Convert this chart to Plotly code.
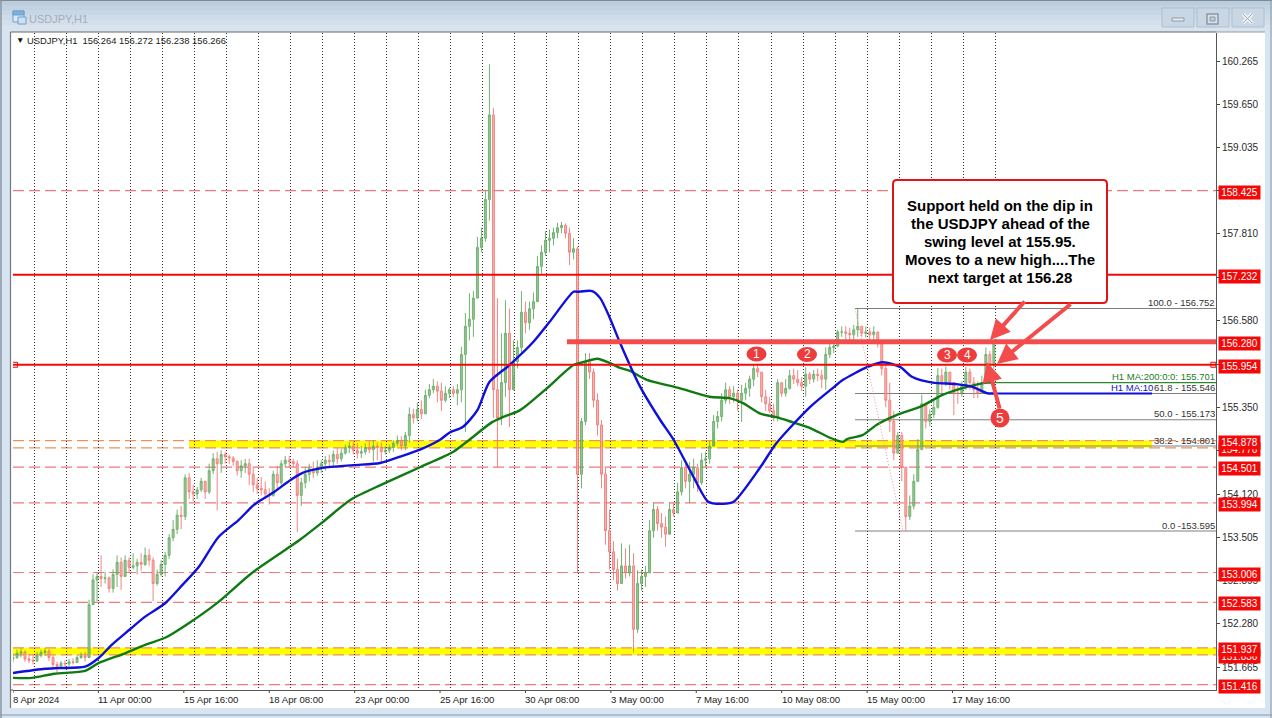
import plotly.graph_objects as go

# ---------- data (prices) ----------
first_open = 151.78
candle_step = 3  # one drawn candle per three hourly bars
highs = [
 151.86,151.91,151.93,151.90,151.85,151.84,151.88,151.91,151.93,151.92,
 151.83,151.74,151.75,151.76,151.78,151.79,151.83,151.87,151.88,152.62,
 152.98,153.00,153.25,153.02,152.95,153.05,153.25,153.22,153.25,153.22,
 153.28,153.20,153.28,153.36,153.34,153.22,153.05,153.18,153.30,153.55,
 153.75,153.90,153.95,154.40,154.42,154.25,154.22,154.35,154.28,154.55,
 154.70,154.72,154.74,154.72,154.68,154.66,154.60,154.60,154.62,154.62,
 154.50,154.35,154.36,154.30,154.20,154.45,154.52,154.60,154.66,154.66,
 154.62,154.60,154.35,154.50,154.55,154.58,154.60,154.60,154.66,154.68,
 154.74,154.78,154.76,154.82,154.86,154.86,154.84,154.80,154.84,154.87,
 154.88,154.85,154.85,154.80,154.82,154.88,154.95,154.94,155.00,155.35,
 155.33,155.42,155.45,155.60,155.68,155.75,155.72,155.70,155.65,155.63,
 155.65,155.68,156.21,156.69,156.97,157.00,157.77,157.90,158.43,160.22,
 159.60,156.90,156.40,156.87,156.75,156.30,156.30,157.00,156.85,156.85,
 156.98,157.50,157.65,157.85,157.87,157.90,157.97,157.98,157.96,157.90,
 157.75,157.63,155.20,156.12,156.12,155.90,155.55,155.17,154.50,153.90,
 153.45,153.20,153.42,153.35,153.40,153.28,153.04,153.05,153.10,153.75,
 154.00,153.95,153.85,153.80,154.00,154.00,154.28,154.60,154.55,154.57,
 154.62,154.55,154.70,154.72,154.87,155.24,155.30,155.55,155.70,155.65,
 155.65,155.60,155.67,155.70,155.80,155.95,155.95,155.85,155.60,155.50,
 155.40,155.75,155.70,155.75,155.88,155.90,155.88,155.78,155.92,155.85,
 155.88,155.90,155.88,156.20,156.27,156.28,156.45,156.50,156.50,156.48,
 156.52,156.75,156.50,156.50,156.48,156.50,156.42,156.30,155.95,155.70,
 155.30,155.00,155.00,154.50,154.10,154.40,154.90,155.53,155.40,155.32,
 155.45,155.91,155.90,155.93,155.85,155.70,155.65,155.72,155.92,155.90,
 155.78,155.72,155.80,156.20,156.15,156.30]
lows = [
 151.73,151.78,151.80,151.74,151.72,151.70,151.74,151.80,151.82,151.75,
 151.64,151.58,151.66,151.67,151.68,151.70,151.72,151.78,151.74,151.82,
 152.55,152.60,152.80,152.85,152.72,152.72,152.80,152.76,152.98,153.00,
 153.05,152.98,153.03,153.10,153.10,152.60,152.82,152.95,152.95,153.20,
 153.45,153.55,153.62,153.75,154.05,154.02,154.05,154.15,154.05,154.12,
 154.40,153.89,154.42,154.55,154.55,154.52,154.38,154.35,154.42,154.25,
 154.15,154.12,154.10,154.05,153.97,154.08,154.18,154.25,154.50,154.50,
 154.50,153.58,153.95,154.20,154.30,154.35,154.38,154.42,154.45,154.50,
 154.50,154.55,154.58,154.68,154.70,154.68,154.62,154.63,154.68,154.70,
 154.58,154.60,154.55,154.68,154.70,154.72,154.80,154.74,154.74,154.85,
 155.12,155.15,155.18,155.25,155.48,155.55,155.42,155.30,155.42,155.48,
 155.50,155.38,155.42,155.00,156.30,156.35,156.90,157.55,157.70,158.00,
 155.20,154.50,155.10,155.50,155.07,155.80,155.90,156.10,156.40,156.45,
 156.60,156.88,157.25,157.50,157.55,157.65,157.75,157.82,157.75,157.37,
 157.45,153.00,154.20,155.10,155.75,155.35,154.95,154.20,153.40,153.05,
 152.90,152.75,152.85,152.92,152.95,151.87,152.15,152.75,152.80,153.00,
 153.50,153.60,153.50,153.37,153.60,153.80,153.87,154.10,154.20,153.99,
 154.20,154.15,154.25,154.50,154.55,154.99,155.05,155.15,155.40,155.40,
 155.42,155.30,155.14,155.45,155.50,155.65,155.78,155.42,155.30,155.27,
 155.15,155.15,155.50,155.50,155.60,155.68,155.65,155.58,155.50,155.68,
 155.70,155.72,155.62,155.60,156.05,156.12,156.20,156.35,156.30,156.28,
 156.25,156.35,156.35,156.34,156.30,156.30,156.20,155.80,155.35,155.00,
 154.60,154.70,154.30,153.60,153.75,153.90,154.30,154.75,155.05,155.08,
 155.20,155.33,155.55,155.65,155.60,155.24,155.40,155.50,155.60,155.60,
 155.48,155.48,155.55,155.68,155.75,155.90]
closes = [
 151.80,151.86,151.88,151.78,151.76,151.75,151.83,151.87,151.89,151.80,
 151.70,151.68,151.72,151.71,151.74,151.73,151.80,151.82,151.80,152.55,
 152.90,152.95,152.92,152.93,152.78,152.98,153.15,152.95,153.18,153.08,
 153.10,153.15,153.12,153.25,153.18,152.85,152.98,153.12,153.25,153.50,
 153.62,153.82,153.80,154.35,154.15,154.12,154.18,154.30,154.15,154.45,
 154.62,154.55,154.68,154.65,154.63,154.58,154.45,154.52,154.55,154.40,
 154.25,154.20,154.18,154.12,154.10,154.40,154.28,154.55,154.60,154.58,
 154.55,154.10,154.28,154.40,154.48,154.42,154.50,154.55,154.60,154.58,
 154.68,154.62,154.70,154.78,154.80,154.74,154.70,154.72,154.78,154.75,
 154.80,154.78,154.72,154.74,154.78,154.84,154.88,154.80,154.95,155.25,
 155.20,155.32,155.26,155.52,155.60,155.65,155.58,155.45,155.55,155.60,
 155.55,155.60,156.10,156.50,156.60,156.90,157.62,157.75,158.30,159.50,
 155.60,155.20,155.70,156.40,155.60,156.00,156.20,156.70,156.55,156.75,
 156.85,157.35,157.55,157.72,157.75,157.83,157.90,157.93,157.82,157.55,
 157.60,154.40,155.15,156.00,155.85,155.45,155.10,154.40,153.60,153.30,
 153.05,152.85,153.10,153.00,153.10,152.20,152.85,152.95,153.00,153.60,
 153.90,153.70,153.65,153.55,153.90,153.85,154.15,154.50,154.30,154.40,
 154.50,154.28,154.60,154.62,154.80,155.15,155.22,155.45,155.60,155.50,
 155.55,155.45,155.55,155.62,155.75,155.90,155.85,155.50,155.40,155.30,
 155.20,155.70,155.55,155.62,155.80,155.75,155.70,155.65,155.82,155.75,
 155.82,155.80,155.75,156.10,156.20,156.22,156.42,156.42,156.40,156.38,
 156.45,156.50,156.40,156.42,156.38,156.42,156.25,155.90,155.45,155.15,
 154.70,154.95,154.50,153.80,153.95,154.30,154.75,155.40,155.15,155.25,
 155.35,155.80,155.70,155.85,155.70,155.55,155.55,155.65,155.85,155.70,
 155.60,155.55,155.70,156.10,155.95,156.266]
assert len(highs) == len(lows) == len(closes)

ma200_bars = [0,14,31,54,64,84,99,114,132,154,179,215,232,253,277,305,330,342,359,367,380,400,420,427,438,447,455,462,475,498,522,537,547,560,572,584,597,612,622,625,637,647,662,680,697,715,730,735]
ma200_vals = [151.51,151.51,151.57,151.61,151.72,151.86,151.98,152.08,152.29,152.59,153.00,153.47,153.72,154.04,154.26,154.50,154.72,154.89,155.14,155.21,155.31,155.62,155.95,155.99,156.04,155.98,155.91,155.87,155.74,155.63,155.50,155.48,155.41,155.26,155.21,155.14,155.06,154.92,154.86,154.90,154.96,155.10,155.24,155.36,155.53,155.64,155.70,155.701]
ma100_bars = [0,24,34,54,64,74,87,99,114,127,139,154,169,179,183,195,208,217,232,255,275,290,305,320,327,337,348,357,372,390,402,420,423,434,440,447,455,470,485,495,510,521,532,540,560,572,597,614,622,640,652,665,674,689,707,719,730,735]
ma100_vals = [151.58,151.64,151.65,151.67,151.79,151.98,152.19,152.38,152.57,152.83,153.08,153.51,153.75,153.94,154.00,154.14,154.32,154.42,154.49,154.53,154.56,154.65,154.75,154.89,154.99,155.07,155.31,155.71,155.95,156.28,156.56,156.99,156.99,157.00,156.90,156.63,156.26,155.64,155.17,154.89,154.36,154.01,153.98,154.01,154.50,154.84,155.35,155.62,155.74,155.92,155.99,155.92,155.78,155.70,155.68,155.64,155.55,155.546]

price_ticks = [160.265,159.650,159.035,158.425,157.810,157.195,156.580,155.965,155.350,154.735,154.120,153.505,152.895,152.280,151.665]
price_tick_text = ["160.265","159.650","159.035","","157.810","","156.580","","155.350","","154.120","153.505","152.895","152.280","151.665"]
dashed_levels = [158.425,154.501,153.994,153.006,152.583,151.416]
band_levels = [154.776,154.878,151.836,151.937]
solid_levels = [157.232,155.954]
target_level = 156.280
tag_levels = [158.425,157.232,156.280,155.954,154.776,154.878,154.501,153.994,153.006,152.583,151.836,151.937,151.416]
fibo_levels = [156.752,155.546,155.173,154.801,153.595]
fibo_labels = ["100.0 - 156.752","61.8 - 155.546","50.0 - 155.173","38.2 - 154.801","0.0 -153.595"]
date_labels = ["8 Apr 2024","11 Apr 00:00","15 Apr 16:00","18 Apr 08:00","23 Apr 00:00","25 Apr 16:00","30 Apr 08:00","3 May 00:00","7 May 16:00","10 May 08:00","15 May 00:00","17 May 16:00"]
date_bars = [0,64,128,192,256,320,384,448,512,576,640,704]
grid_bars = list(range(16, 737, 24))
callout_lines = ["Support held on the dip in","the USDJPY ahead of the","swing level at 155.95.","Moves to a new high....The","next target at 156.28"]
header_text = "USDJPY,H1  156.264 156.272 156.238 156.266"

# ---------- geometry ----------
L, R, T, B = 13, 1216, 33, 690
BAR_PX = 1.3345
XMAX = (R - L) / BAR_PX
fx = lambda p: (p - L) / (R - L)
fy = lambda p: (B - p) / (B - T)
bar_of = lambda p: (p - L) / BAR_PX
FONT = "Liberation Sans"
CORAL = "#f44c4c"
RED = "#f00a0a"

fig = go.Figure()
opens = [first_open] + closes[:-1]
candle_x = [i * candle_step for i in range(len(closes))]
fig.add_trace(go.Candlestick(x=candle_x, open=opens, high=highs, low=lows, close=closes,
    increasing=dict(line=dict(color="#5aa65a", width=1), fillcolor="#86bb86"),
    decreasing=dict(line=dict(color="#f27070", width=1), fillcolor="#f3a898"),
    whiskerwidth=0, opacity=0.85, showlegend=False, hoverinfo="skip"))
fig.add_trace(go.Scatter(x=ma200_bars, y=ma200_vals, mode="lines", line=dict(color="#0f7a12", width=2.4, shape="spline", smoothing=0.7), showlegend=False))
fig.add_trace(go.Scatter(x=ma100_bars, y=ma100_vals, mode="lines", line=dict(color="#1010dc", width=2.4, shape="spline", smoothing=0.7), showlegend=False))
fig.add_trace(go.Scatter(x=[735, XMAX], y=[155.701, 155.701], mode="lines", line=dict(color="#2a8a2a", width=1.2), showlegend=False))
fig.add_trace(go.Scatter(x=[735, bar_of(1152)], y=[155.546, 155.546], mode="lines", line=dict(color="#1010dc", width=2), showlegend=False))
fig.add_trace(go.Scatter(x=[1.5, XMAX - 2], y=[155.954, 155.954], mode="markers",
    marker=dict(symbol="square-open", size=5, color=RED, line=dict(width=1, color=RED)), showlegend=False))

shapes = []
def prect(x0, y0, x1, y1, fill, line=None, lw=1, layer="below"):
    shapes.append(dict(type="rect", xref="paper", yref="paper", x0=fx(x0), x1=fx(x1), y0=fy(y0), y1=fy(y1),
                       fillcolor=fill, line=dict(color=line or fill, width=lw if line else 0), layer=layer))
def pline(x0, y0, x1, y1, color, lw=1, layer="below"):
    shapes.append(dict(type="line", xref="paper", yref="paper", x0=fx(x0), x1=fx(x1), y0=fy(y0), y1=fy(y1),
                       line=dict(color=color, width=lw), layer=layer))

# window chrome
for i, c in enumerate(["#bccddd", "#c2d2e1", "#c8d7e5", "#cedbe8", "#d3dfeb", "#d8e3ee"]):
    prect(0, i * 5, 1272, i * 5 + 6, c)
pline(0, 0.5, 1272, 0.5, "#7f8a95", 1)
pline(1, 0, 1, 718, "#8a96a2", 1.5)
pline(0, 715, 1272, 715, "#8a96a2", 1)
pline(1271, 0, 1271, 718, "#8a96a2", 1)
prect(11, 32, 1265, 708, "#ffffff")
pline(10.5, 32, 1216, 32, "#666666", 1.2)
pline(1216, 32, 1265, 32, "#9a9a9a", 1)
pline(10.5, 32, 10.5, 708, "#777777", 1.2)
pline(10.5, 690, 13, 690, "#555555", 1)
# title icon
prect(13, 11, 24, 22, "#dce8f4", "#6f9fcc", 1)
prect(13, 11, 24, 15, "#7fb0dc", "#6f9fcc", 1)
prect(18, 17, 26, 24, "#cfe0f0", "#6f9fcc", 1)
# window buttons
for x0 in (1162, 1197, 1232):
    prect(x0, 8, x0 + 32, 27, "#c9d7e5", "#aebfd0", 1)
prect(1172, 18, 1184, 21, "#e8eef4", "#8c98a4", 1)
prect(1207, 14, 1218, 24, "#d5e0ea", "#8c98a4", 1.5)
prect(1210, 17, 1215, 21, "#c0ccd8", "#8c98a4", 1)
pline(1243, 14, 1252, 23, "#f0f4f8", 3.5)
pline(1252, 14, 1243, 23, "#f0f4f8", 3.5)
pline(1243, 14, 1252, 23, "#98a4b0", 1)
pline(1252, 14, 1243, 23, "#98a4b0", 1)

# date ticks
for b in date_bars:
    shapes.append(dict(type="line", xref="x", yref="paper", x0=b, x1=b, y0=fy(690), y1=fy(693),
                       line=dict(color="#444444", width=1), layer="below"))

# yellow zones
shapes.append(dict(type="rect", xref="x", yref="y", x0=bar_of(189), x1=bar_of(1152), y0=band_levels[0], y1=band_levels[1],
                   fillcolor="#ffff00", line=dict(width=0), layer="below"))
shapes.append(dict(type="rect", xref="x", yref="y", x0=0, x1=XMAX, y0=band_levels[2], y1=band_levels[3],
                   fillcolor="#ffff00", line=dict(width=0), layer="below"))
# horizontal levels
for lv in dashed_levels:
    shapes.append(dict(type="line", xref="x", yref="y", x0=0, x1=XMAX, y0=lv, y1=lv,
                       line=dict(color="#ee7a7a", width=1.2, dash="11px,5px"), layer="below"))
for lv in band_levels:
    shapes.append(dict(type="line", xref="x", yref="y", x0=0, x1=XMAX, y0=lv, y1=lv,
                       line=dict(color="#ee9060", width=1.3, dash="11px,5px"), layer="below"))
for lv in fibo_levels:
    shapes.append(dict(type="line", xref="x", yref="y", x0=bar_of(855), x1=XMAX, y0=lv, y1=lv,
                       line=dict(color="#808080", width=1.1), layer="below"))
shapes.append(dict(type="line", xref="x", yref="y", x0=bar_of(855), x1=bar_of(903), y0=fibo_levels[0], y1=fibo_levels[-1],
                   line=dict(color="#f09090", width=1, dash="1px,2px"), layer="above"))
for lv in solid_levels:
    shapes.append(dict(type="line", xref="x", yref="y", x0=0, x1=XMAX, y0=lv, y1=lv,
                       line=dict(color=RED, width=2), layer="above"))
shapes.append(dict(type="line", xref="x", yref="y", x0=bar_of(567), x1=XMAX, y0=target_level, y1=target_level,
                   line=dict(color=CORAL, width=5), layer="above"))

# callout box
x0, x1, y0, y1 = fx(893), fx(1107), fy(180), fy(303)
shapes.append(dict(type="path", xref="paper", yref="paper", layer="above", fillcolor="#ffffff",
    line=dict(color="#e31414", width=2),
    path=f"M {fx(897)} {y0} L {fx(1103)} {y0} Q {x1} {y0} {x1} {fy(184)} L {x1} {fy(299)} Q {x1} {y1} {fx(1103)} {y1} "
         f"L {fx(897)} {y1} Q {x0} {y1} {x0} {fy(299)} L {x0} {fy(184)} Q {x0} {y0} {fx(897)} {y0} Z"))

# numbered circles
circles = [("1", 756.5, 354, 10, 7.5, 12), ("2", 807, 354.5, 10, 7.5, 12), ("3", 947, 355, 10, 7.5, 12), ("4", 967, 355, 10, 7.5, 12), ("5", 1000, 418, 9.5, 9.5, 14)]
for _, cx, cy, rx, ry, _s in circles:
    shapes.append(dict(type="circle", xref="paper", yref="paper", x0=fx(cx - rx), x1=fx(cx + rx), y0=fy(cy + ry), y1=fy(cy - ry),
                       fillcolor="#ee3b3b", line=dict(width=0), layer="above"))

ann = []
def ptext(x, y, text, size=10, color="#1a1a1a", anchor="left", **kw):
    ann.append(dict(xref="paper", yref="paper", x=fx(x), y=fy(y), text=text, showarrow=False, xanchor=anchor, yanchor="middle",
                    font=dict(family=FONT, size=size, color=color), **kw))

ptext(27, 19, "USDJPY,H1", 11, "#a4aeb8")
ptext(13.5, 39.5, "\u25bc", 8.5, "#111111")
ptext(24.5, 40.5, header_text, 9.4, "#1a1a1a")
for b, t in zip(date_bars, date_labels):
    ann.append(dict(xref="x", yref="paper", x=b, y=fy(699), text=t, showarrow=False, xanchor="left", yanchor="middle",
                    xshift=-2, font=dict(family=FONT, size=9.6, color="#222222")))
# price tags
for lv in tag_levels:
    ann.append(dict(xref="paper", yref="y", x=fx(1218), y=lv, yshift=-1.5, text=f"{lv:.3f}", showarrow=False, xanchor="left", yanchor="middle",
                    bgcolor="#f40808", borderpad=0, width=41, height=13, align="center",
                    font=dict(family=FONT, size=10, color="#ffffff")))
# fibo labels
for lv, t in zip(fibo_levels, fibo_labels):
    ann.append(dict(xref="paper", yref="y", x=fx(1217), y=lv, yshift=6, text=t, showarrow=False, xanchor="right", yanchor="middle",
                    font=dict(family=FONT, size=9.5, color="#333333")))
ann.append(dict(xref="paper", yref="y", x=fx(1217), y=155.701, yshift=6, text="H1 MA:200:0:0: 155.701", showarrow=False, xanchor="right", yanchor="middle",
                font=dict(family=FONT, size=9.5, color="#1d7d1d")))
ann.append(dict(xref="paper", yref="y", x=fx(1155), y=155.546, yshift=6, text="H1 MA:10", showarrow=False, xanchor="right", yanchor="middle",
                font=dict(family=FONT, size=9.5, color="#1010cc")))
# callout text
for ly, line in zip([205, 223, 241.5, 259, 277], callout_lines):
    ptext(1000, ly, "<b>" + line + "</b>", 15, "#000000", "center")
# arrows
for (x_from, y_from, x_to, y_to) in [(1026, 300, 990, 340), (1072, 303, 997, 364), (1000, 410, 987, 362)]:
    ann.append(dict(xref="paper", yref="paper", x=fx(x_to), y=fy(y_to), axref="pixel", ayref="pixel",
                    ax=x_from - x_to, ay=y_from - y_to, text="", showarrow=True, arrowhead=2, arrowsize=1,
                    arrowwidth=4, arrowcolor=CORAL))
for label, cx, cy, _, _, s in circles:
    ptext(cx, cy, label, s, "#ffffff", "center")

fig.update_layout(
    width=1272, height=718, autosize=False,
    margin=dict(l=L, r=1272 - R, t=T, b=718 - B, pad=0),
    paper_bgcolor="#d7e4f2", plot_bgcolor="#ffffff",
    showlegend=False, shapes=shapes, annotations=ann,
    font=dict(family=FONT, size=10, color="#222222"),
    xaxis=dict(range=[0, XMAX], type="linear", rangeslider=dict(visible=False), tickvals=grid_bars, showticklabels=False,
               ticks="", showgrid=True, gridcolor="#333333", gridwidth=1, griddash="1px,2px", zeroline=False,
               showline=True, mirror=False, linecolor="#555555", linewidth=1),
    yaxis=dict(range=[151.665 - (B - 667) / 70.47, 160.265 + (61 - T) / 70.47], side="right", tickvals=price_ticks, ticktext=price_tick_text,
               ticks="outside", ticklen=3, tickcolor="#444444", showgrid=False, zeroline=False,
               showline=True, mirror=False, linecolor="#555555", linewidth=1,
               tickfont=dict(family=FONT, size=10, color="#2a2a2a")),
)
fig.write_html("out.html", config={"displayModeBar": False},
               post_script="document.body.style.margin='0';document.body.style.overflow='hidden';")
